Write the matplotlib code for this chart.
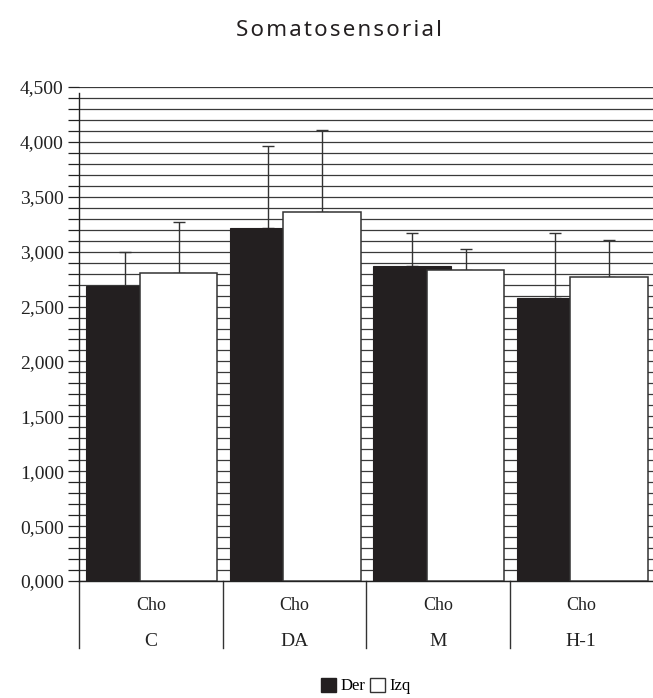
import numpy as np
import matplotlib
matplotlib.use("Agg")
import matplotlib.pyplot as plt
from matplotlib.patches import Patch
from matplotlib.ticker import MultipleLocator, FuncFormatter

# Group means and upper error lengths
groups = ["C", "DA", "M", "H-1"]
sub_label = "Cho"
der = [2.69, 3.22, 2.87, 2.58]
der_err = [0.31, 0.74, 0.30, 0.59]
izq = [2.81, 3.36, 2.83, 2.77]
izq_err = [0.46, 0.75, 0.19, 0.34]

serif = "Liberation Serif"
dark = "#231f20"

fig = plt.figure(figsize=(6.53, 6.98), dpi=100)
ax = fig.add_axes([79 / 653, 117 / 698, 1 - 79 / 653, 494 / 698])

x = np.arange(len(groups))
w = 0.54
ax.bar(x - 0.18, der, w, color=dark, edgecolor=dark, linewidth=0.8, zorder=3)
ax.errorbar(x - 0.18, der, yerr=[np.zeros(len(der)), der_err], fmt="none",
            ecolor="#333333", elinewidth=1.0, capsize=4.5, capthick=1.0, zorder=2)
ax.bar(x + 0.195, izq, w, color="white", edgecolor="#333333", linewidth=1.1, zorder=4)
ax.errorbar(x + 0.195, izq, yerr=[np.zeros(len(izq)), izq_err], fmt="none",
            ecolor="#333333", elinewidth=1.0, capsize=4.5, capthick=1.0, zorder=2)

ax.set_xlim(-0.5, 3.5)
ax.set_ylim(0, 4.5)
ax.yaxis.set_major_locator(MultipleLocator(0.5))
ax.yaxis.set_minor_locator(MultipleLocator(0.1))
ax.yaxis.set_major_formatter(FuncFormatter(lambda v, p: f"{v:.3f}".replace(".", ",")))
ax.tick_params(axis="y", which="both", direction="out", length=8, width=0.9,
               color="#222222", labelsize=14, pad=3)
for lab in ax.get_yticklabels():
    lab.set_fontfamily(serif)
    lab.set_color("#222222")
ax.set_xticks([])
ax.grid(axis="y", which="both", color="#3a3a3a", linewidth=0.9, zorder=0)
ax.set_axisbelow(True)

for s in ["top", "right"]:
    ax.spines[s].set_visible(False)
ax.spines["bottom"].set_linewidth(1.0)
ax.spines["bottom"].set_color("#222222")
ax.spines["left"].set_linewidth(1.0)
ax.spines["left"].set_color("#222222")
ax.spines["left"].set_bounds(0, 4.445)

# category separators and two-level labels below the axis
trans = ax.get_xaxis_transform()
for b in np.arange(len(groups)) - 0.5:
    ax.plot([b, b], [0, -0.136], transform=trans, color="#333333",
            linewidth=1.0, clip_on=False)
for i, g in enumerate(groups):
    ax.text(i, -0.05, sub_label, transform=trans, ha="center", va="center",
            fontsize=13, family=serif, color="#222222")
    ax.text(i, -0.122, g, transform=trans, ha="center", va="center",
            fontsize=14, family=serif, color="#222222")

title = "\u200a".join("Somatosensorial")
fig.text(339 / 653, 1 - 30 / 698, title, ha="center", va="center", fontsize=16,
         family=["Noto Sans", "DejaVu Sans"], color="#231f20")

handles = [Patch(facecolor=dark, edgecolor=dark, label="Der"),
           Patch(facecolor="white", edgecolor="#333333", label="Izq")]
fig.legend(handles=handles, loc="center", bbox_to_anchor=(366 / 653, 1 - 686 / 698),
           ncol=2, frameon=False, handlelength=0.9, handleheight=0.9,
           handletextpad=0.25, columnspacing=0.3, borderpad=0,
           prop={"family": serif, "size": 12})

fig.savefig("out.png", dpi=100)
